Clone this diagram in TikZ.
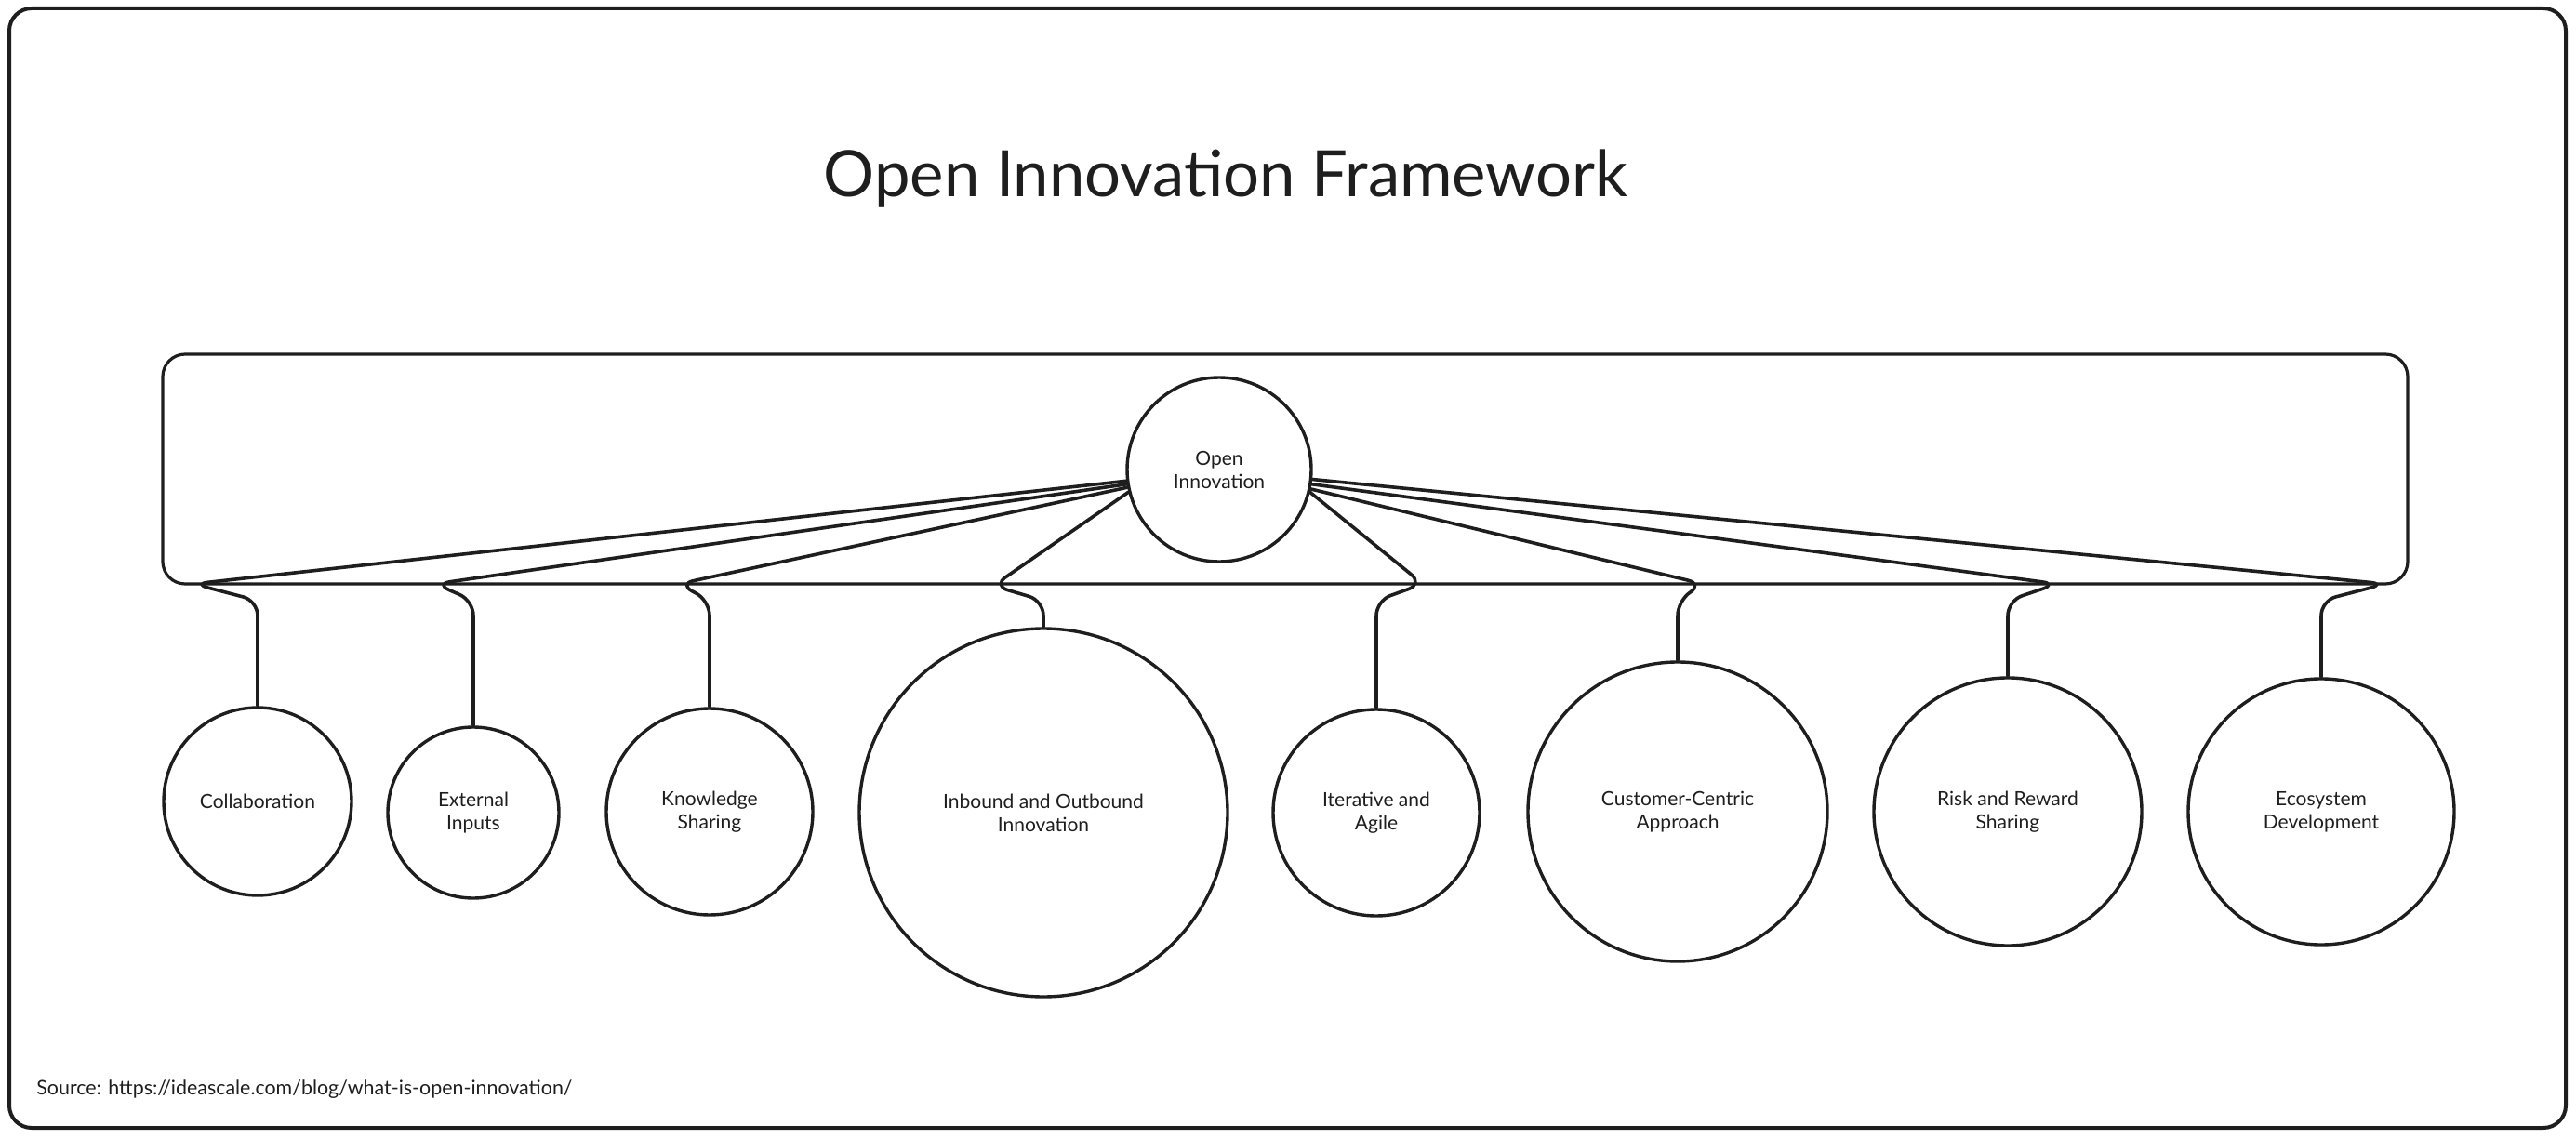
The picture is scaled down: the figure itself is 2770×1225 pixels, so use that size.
\documentclass[tikz,border=0pt]{standalone}
\usepackage{fontspec}
\setmainfont{Lato}
\definecolor{ink}{HTML}{1E1E1E}
\begin{document}
\begin{tikzpicture}[x=0.5pt,y=-0.5pt,
  box/.style={circle, draw=ink, line width=1.7pt, inner sep=0pt, align=center,
    font=\fontsize{10.5}{12.5}\selectfont, text=ink},
  conn/.style={draw=ink, line width=1.8pt, rounded corners=8pt, line cap=round, line join=round},
  frameline/.style={draw=ink, line width=2pt, rounded corners=12pt},
]
\useasboundingbox (0,0) rectangle (2770,1225);
% outer frame
\draw[frameline] (10,9) rectangle (2759,1213);

% title
\node[font=\fontsize{34.4}{40}\selectfont, text=ink] (title) at (1318,192) {Open Innovation Framework};

% container
\node[draw=ink, line width=1.6pt, rounded corners=12pt, minimum width=1207pt,
      minimum height=123.5pt, inner sep=0pt] (group) at (1382,504.5) {};

% central node
\node[box, minimum size=99pt] (oi) at (1311,505) {Open\\Innovation};

% children
\node[box, minimum size=101pt] (c1) at (277,862) {Collaboration};
\node[box, minimum size=92pt]  (c2) at (509,874) {External\\Inputs};
\node[box, minimum size=111pt] (c3) at (763,873) {Knowledge\\Sharing};
\node[box, minimum size=198pt] (c4) at (1122,874) {Inbound and Outbound\\Innovation};
\node[box, minimum size=111pt] (c5) at (1480,874) {Iterative and\\Agile};
\node[box, minimum size=161pt] (c6) at (1804,873) {Customer-Centric\\Approach};
\node[box, minimum size=144pt] (c7) at (2159,873) {Risk and Reward\\Sharing};
\node[box, minimum size=143pt] (c8) at (2496,873) {Ecosystem\\Development};

% connectors
\draw[conn] (oi.187) -- (208,628) -- (277,646) -- (c1.north);
\draw[conn] (oi.189) -- (468,628) -- (509,646) -- (c2.north);
\draw[conn] (oi.191) -- (730,628) -- (763,646) -- (c3.north);
\draw[conn] (oi.194) -- (1068,630) -- (1122,646) -- (c4.north);
\draw[conn] (oi.-14) -- (1530,628) -- (1480,646) -- (c5.north);
\draw[conn] (oi.-12) -- (1831,628) -- (1804,646) -- (c6.north);
\draw[conn] (oi.-9)  -- (2212,628) -- (2159,646) -- (c7.north);
\draw[conn] (oi.-6)  -- (2565,628) -- (2496,646) -- (c8.north);

% source
\node[anchor=base west, font=\fontsize{10.7}{12.8}\selectfont, text=ink, inner sep=0pt] (src) at (39,1177)
  {Source: https://ideascale.com/blog/what-is-open-innovation/};
\end{tikzpicture}
\end{document}
